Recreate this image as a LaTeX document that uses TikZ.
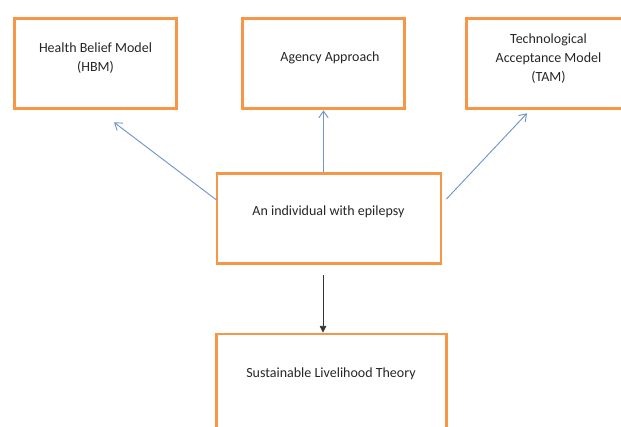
\documentclass[tikz,border=0pt]{standalone}
\usepackage{fontspec}
\setmainfont{Carlito}
\usetikzlibrary{arrows.meta, calc, positioning}
\definecolor{boxorange}{RGB}{247,150,70}
\definecolor{linkblue}{RGB}{110,150,205}

\tikzset{
  box/.style={draw=boxorange, line width=2.2pt, minimum height=68pt, inner sep=0pt},
  txt/.style={align=center, font=\fontsize{10.5}{14.25}\selectfont, text=black!85},
  link/.style={draw=linkblue, line width=0.7pt, -{Straight Barb[length=5pt, width=7pt]}},
  down/.style={draw=black!80, line width=0.6pt, -{Triangle[length=5pt, width=5pt]}}
}

\begin{document}
\begin{tikzpicture}[x=0.75pt, y=-0.75pt]
  \useasboundingbox (0,0) rectangle (621,426);
  \clip (0,0) rectangle (621,426);
  % boxes
  \node[box, minimum width=122pt] (hbm) at (95.5,63.5) {};
  \node[box, minimum width=122pt] (agency) at (323.5,63.5) {};
  \node[box, minimum width=122pt] (tam) at (547.5,63.5) {};
  \node[box, minimum width=168pt] (ctr) at (329,218.5) {};
  \node[box, minimum width=172pt, minimum height=75pt] (slt) at (331.5,384) {};
  % texts
  \node[txt] (hbmtext) at (95.5,58) {Health Belief Model\\(HBM)};
  \node[txt] (agencytext) at (330,57.5) {Agency Approach};
  \node[txt] (tamtext) at (548.5,58.5) {Technological\\Acceptance Model\\(TAM)};
  \node[txt] (ctrtext) at (328.5,211.5) {An individual with epilepsy};
  \node[txt] (slttext) at (331,373.5) {Sustainable Livelihood Theory};
  % arrows
  \draw[link] ($(ctr.west)+(1,-18.5)$) -- ($(hbm.south)+(18.5,12)$);
  \draw[link] (agency.south |- ctr.north) -- (agency.south);
  \draw[link] ($(ctr.east)+(4,-19.5)$) -- ($(tam.south)+(-20.5,3)$);
  \coordinate (dtop) at ($(ctr.south)+(-6,10)$);
  \draw[down] (dtop) -- (dtop |- slt.north);
\end{tikzpicture}
\end{document}
